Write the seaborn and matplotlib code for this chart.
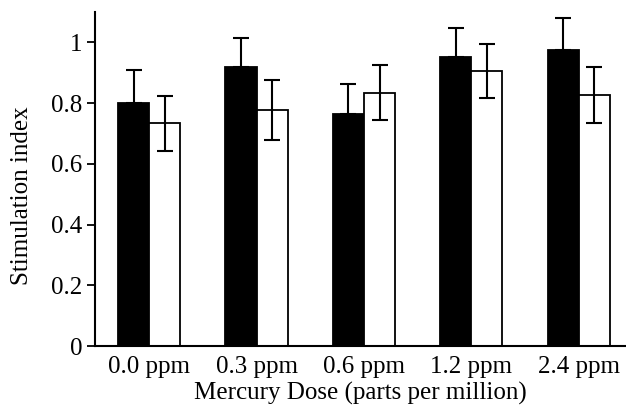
import numpy as np
import pandas as pd
import matplotlib
matplotlib.use("Agg")
import matplotlib.pyplot as plt
import seaborn as sns

doses = ["0.0 ppm", "0.3 ppm", "0.6 ppm", "1.2 ppm", "2.4 ppm"]
series_names = ["A", "B"]
black_vals = [0.802, 0.918, 0.765, 0.951, 0.974]
black_err = [0.107, 0.097, 0.097, 0.097, 0.108]
white_vals = [0.734, 0.778, 0.834, 0.906, 0.827]
white_err = [0.090, 0.099, 0.091, 0.090, 0.093]
y_ticks = [0, 0.2, 0.4, 0.6, 0.8, 1]
y_ticklabels = ["0", "0.2", "0.4", "0.6", "0.8", "1"]

sns.set_theme(style="ticks")
plt.rcParams["font.family"] = ["Liberation Serif", "DejaVu Serif"]

df = pd.DataFrame({
    "dose": doses * 2,
    "group": [series_names[0]] * 5 + [series_names[1]] * 5,
    "value": black_vals + white_vals,
})

fig = plt.figure(figsize=(6.26, 4.16), dpi=100)
ax = fig.add_axes([0.152, 0.168, 0.848, 0.803])

sns.barplot(data=df, x="dose", y="value", hue="group", order=doses,
            hue_order=series_names, palette=["black", "white"],
            width=0.58, gap=0, errorbar=None, edgecolor="black",
            linewidth=1.3, saturation=1, legend=False, ax=ax)

conts = ax.containers
# black bars: upper error only
bx = [p.get_x() + p.get_width() / 2 for p in conts[0]]
ax.errorbar(bx, black_vals, yerr=[np.zeros(len(black_err)), black_err],
            fmt="none", ecolor="black", elinewidth=1.5, capsize=5.5,
            capthick=1.5, zorder=1)
wx = [p.get_x() + p.get_width() / 2 for p in conts[1]]
ax.errorbar(wx, white_vals, yerr=white_err, fmt="none", ecolor="black",
            elinewidth=1.5, capsize=5.5, capthick=1.5, zorder=3)

ax.set_xlim(-0.503, 4.44)
ax.set_ylim(0, 1.1)
ax.set_yticks(y_ticks)
ax.set_yticklabels(y_ticklabels)
ax.tick_params(axis="y", length=6, width=1.3, labelsize=18, color="black",
               labelcolor="black", pad=3)
ax.tick_params(axis="x", length=0, labelsize=18, labelcolor="black", pad=7)
ax.set_xlabel("Mercury Dose (parts per million)", fontsize=18, color="black",
              labelpad=3)
ax.set_ylabel("Stimulation index", fontsize=18, color="black", labelpad=6)
ax.yaxis.set_label_coords(-0.118, 0.45)
for s in ["top", "right"]:
    ax.spines[s].set_visible(False)
for s in ["left", "bottom"]:
    ax.spines[s].set_linewidth(1.5)
    ax.spines[s].set_color("black")

fig.savefig("out.png", dpi=100)
